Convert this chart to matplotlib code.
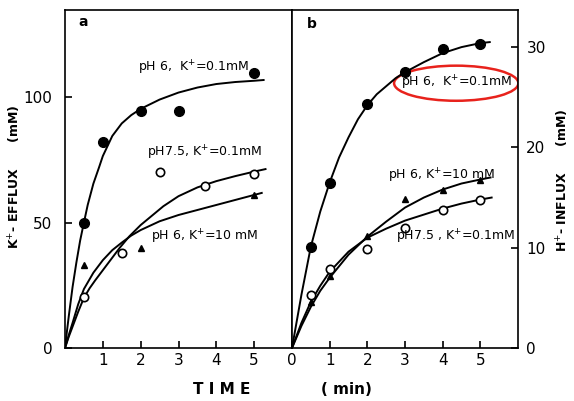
import numpy as np
import matplotlib
matplotlib.use("Agg")
import matplotlib.pyplot as plt
from matplotlib.patches import Ellipse

# panel a : K+ efflux (mM)
a_t_fill = [0.5, 1, 2, 3, 5]
a_y_fill = [50, 82, 94.5, 94.5, 109.5]
a_t_open = [0.5, 1.5, 2.5, 3.7, 5]
a_y_open = [20.5, 38, 70, 64.5, 69.5]
a_t_tri = [0.5, 2, 5]
a_y_tri = [33, 40, 61]

# fitted curves
a_cx_fill = [0, 0.05, 0.1, 0.2, 0.3, 0.4, 0.5, 0.6, 0.75, 0.9, 1, 1.25, 1.5, 1.75, 2,
             2.5, 3, 3.5, 4, 4.5, 5, 5.25]
a_cy_fill = [0, 6.5, 12.7, 24.3, 34, 42.8, 50, 57, 65.5, 72, 76.5, 84.5, 89.5, 92.8, 95.3,
             99, 101.8, 103.8, 105.2, 106, 106.5, 106.8]
a_cx_open = [0, 0.1, 0.2, 0.35, 0.5, 0.65, 0.8, 1, 1.2, 1.45, 1.7, 2, 2.2, 2.6, 3, 3.5,
             4, 4.5, 5, 5.3]
a_cy_open = [0, 4.5, 8.5, 14.5, 20, 23.8, 27, 31, 35, 40, 44.5, 49, 51.5, 56.5, 60.5, 64,
             66.5, 68.5, 70.3, 71.3]
a_cx_tri = [0, 0.1, 0.2, 0.35, 0.5, 0.75, 1, 1.25, 1.5, 1.75, 2, 2.5, 3, 3.5, 4, 4.5, 5, 5.2]
a_cy_tri = [0, 5.2, 10, 17.5, 23.5, 30, 35, 39, 42, 44.8, 47, 50.5, 53, 55, 57, 59, 61, 61.8]

# panel b : H+ influx (mM)
b_t = [0.5, 1, 2, 3, 4, 5]
b_y_fill = [10.1, 16.5, 24.3, 27.5, 29.8, 30.3]
b_y_tri = [4.6, 7.2, 11.2, 14.9, 15.8, 16.8]
b_y_open = [5.3, 7.9, 9.9, 12.0, 13.8, 14.8]

b_cx_fill = [0, 0.25, 0.5, 0.75, 1, 1.25, 1.5, 1.75, 2, 2.25, 2.5, 2.75, 3, 3.5, 4, 4.5,
             5, 5.25]
b_cy_fill = [0, 5.3, 10.1, 13.6, 16.5, 19, 21, 22.8, 24.2, 25.3, 26.1, 26.9, 27.5, 28.5,
             29.4, 30.0, 30.4, 30.5]
b_cx_tri = [0, 0.25, 0.5, 0.75, 1, 1.5, 2, 2.5, 3, 3.5, 4, 4.5, 5, 5.27]
b_cy_tri = [0, 2.2, 4.1, 5.7, 7.0, 9.3, 11.1, 12.6, 14.0, 15.0, 15.8, 16.4, 16.8, 17.0]
b_cx_open = [0, 0.25, 0.5, 0.75, 1, 1.5, 2, 2.5, 3, 3.5, 4, 4.5, 5, 5.3]
b_cy_open = [0, 2.5, 4.6, 6.2, 7.6, 9.6, 11.0, 11.9, 12.7, 13.3, 13.9, 14.4, 14.8, 15.0]

plt.rcParams['font.family'] = 'DejaVu Sans'

fig = plt.figure(figsize=(5.74, 4.01), dpi=100)
ax1 = fig.add_axes([65/574, 53/401, 227/574, 338/401])
ax2 = fig.add_axes([292/574, 53/401, 226/574, 338/401])

lw = 1.4
for ax in (ax1, ax2):
    ax.set_xlim(0, 6)
    for s in ax.spines.values():
        s.set_linewidth(1.2)

# panel a
ax1.plot(a_cx_fill, a_cy_fill, color='black', lw=lw)
ax1.plot(a_cx_open, a_cy_open, color='black', lw=lw)
ax1.plot(a_cx_tri, a_cy_tri, color='black', lw=lw)
ax1.plot(a_t_fill, a_y_fill, 'o', color='black', ms=7)
ax1.plot(a_t_open, a_y_open, 'o', mfc='white', mec='black', mew=1.2, ms=6)
ax1.plot(a_t_tri, a_y_tri, '^', color='black', ms=4)
ax1.set_ylim(0, 134.7)
ax1.set_xticks([1, 2, 3, 4, 5])
ax1.set_yticks([0, 50, 100])
ax1.tick_params(direction='in', length=5, width=1.2, labelsize=11)
ax1.tick_params(axis='y', pad=9)
ax1.text(0.35, 130, 'a', fontsize=10, fontweight='bold', va='center')
ax1.text(3.39, 111.5, 'pH 6,  K$^{+}$=0.1mM', fontsize=9, ha='center', va='center')
ax1.text(3.7, 77.7, 'pH7.5, K$^{+}$=0.1mM', fontsize=9, ha='center', va='center')
ax1.text(3.7, 44.2, 'pH 6, K$^{+}$=10 mM', fontsize=9, ha='center', va='center')

# panel b
ax2.plot(b_cx_fill, b_cy_fill, color='black', lw=lw)
ax2.plot(b_cx_tri, b_cy_tri, color='black', lw=lw)
ax2.plot(b_cx_open, b_cy_open, color='black', lw=lw)
ax2.plot(b_t, b_y_fill, 'o', color='black', ms=7)
ax2.plot(b_t, b_y_tri, '^', color='black', ms=4)
ax2.plot(b_t, b_y_open, 'o', mfc='white', mec='black', mew=1.2, ms=6)
ax2.set_ylim(0, 33.7)
ax2.set_xticks([0, 1, 2, 3, 4, 5])
ax2.set_yticks([0, 10, 20, 30])
ax2.yaxis.tick_right()
ax2.tick_params(direction='in', length=5, width=1.2, labelsize=11)
ax2.tick_params(axis='y', pad=6)
ax2.text(0.4, 32.3, 'b', fontsize=10, fontweight='bold', va='center')
ax2.text(4.38, 26.4, 'pH 6,  K$^{+}$=0.1mM', fontsize=9, ha='center', va='center')
ax2.add_patch(Ellipse((4.36, 26.4), 3.3, 3.5, fill=False, edgecolor='#e8221c', lw=1.8))
ax2.text(3.98, 17.2, 'pH 6, K$^{+}$=10 mM', fontsize=9, ha='center', va='center')
ax2.text(4.35, 11.05, 'pH7.5 , K$^{+}$=0.1mM', fontsize=9, ha='center', va='center')

# axis titles
fig.text(15/574, 1 - 177/401, 'K$^{+}$- EFFLUX      (mM)', fontsize=9, fontweight='bold',
         rotation=90, ha='center', va='center')
fig.text(563/574, 1 - 180/401, 'H$^{+}$- INFLUX      (mM)', fontsize=9, fontweight='bold',
         rotation=90, ha='center', va='center')
fig.text(221.7/574, 1 - 390/401, 'T I M E', fontsize=11, fontweight='bold', ha='center', va='center')
fig.text(346.7/574, 1 - 390/401, '( min)', fontsize=11, fontweight='bold', ha='center', va='center')

fig.savefig('out.png', dpi=100)
